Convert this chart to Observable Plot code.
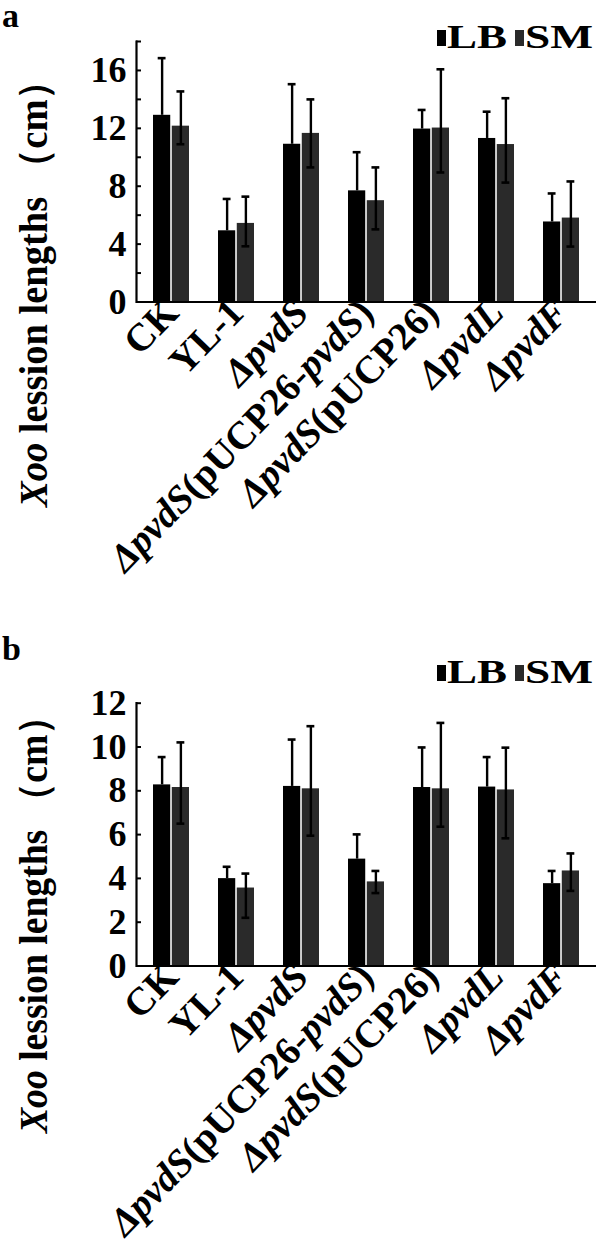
<!DOCTYPE html>
<html><head><meta charset="utf-8">
<script src="https://cdn.jsdelivr.net/npm/d3@7"></script>
<script src="https://cdn.jsdelivr.net/npm/@observablehq/plot@0.6"></script>
<style>
body{margin:0;background:#fff;}
#wrap{width:600px;}
svg{display:block;}
</style></head><body><div id="wrap"></div>
<script>
// categories (asterisks mark italic parts)
const categories = ["CK", "YL-1", "*ΔpvdS*", "*ΔpvdS*(pUCP26-*pvdS*)", "*ΔpvdS*(pUCP26)", "*ΔpvdL*", "*ΔpvdF*"];
const seriesNames = ["LB", "SM"];
const seriesColors = ["#000000", "#2a2a2a"];

// panel a values (cm)
const aLB   = [12.9, 4.92, 10.9, 7.68, 11.95, 11.3, 5.53];
const aLBhi = [16.85, 7.12, 15.05, 10.35, 13.27, 13.15, 7.5];
const aSM   = [12.15, 5.43, 11.65, 7.0, 12.02, 10.88, 5.8];
const aSMhi = [14.55, 7.28, 14.0, 9.3, 16.08, 14.08, 8.33];
const aSMlo = [10.9, 3.85, 9.3, 5.02, 8.95, 8.25, 3.83];
const aTicks = [0, 2, 4, 6, 8, 10, 12, 14, 16, 18];
const aTickLabels = [0, 4, 8, 12, 16];

// panel b values (cm)
const bLB   = [8.27, 3.99, 8.2, 4.88, 8.15, 8.17, 3.76];
const bLBhi = [9.54, 4.53, 10.34, 6.01, 9.98, 9.54, 4.34];
const bSM   = [8.15, 3.56, 8.09, 3.84, 8.09, 8.04, 4.34];
const bSMhi = [10.21, 4.22, 10.95, 4.34, 11.1, 9.97, 5.14];
const bSMlo = [6.5, 2.2, 5.95, 3.33, 6.36, 5.83, 3.43];
const bTicks = [0, 2, 4, 6, 8, 10, 12];
const bTickLabels = [0, 2, 4, 6, 8, 10, 12];

const yTitleParts = [["Xoo", true], [" lession lengths \uFF08cm\uFF09", false]];

const FONT = "'Liberation Serif', 'Times New Roman', serif";
const strip = s => s.replace(/\*/g, "");
const markupOf = new Map(categories.map(c => [strip(c), c]));

function rows(vals, hi, lo) {
  return categories.map((c, i) => ({cat: strip(c), value: vals[i], hi: hi[i], lo: lo ? lo[i] : vals[i]}));
}

function panel(cfg) {
  const W = 600, mL = 136, mR = 4;
  const frameW = W - mL - mR;
  const step = frameW / 7;           // paddingInner 0.45, paddingOuter 0.225
  const bw = step * 0.55;
  const barW = (bw - 1.4) / 2;
  const off = bw / 2 - barW / 2;
  const capW = 8;
  const lb = rows(cfg.lb, cfg.lbHi, null);
  const sm = rows(cfg.sm, cfg.smHi, cfg.smLo);
  const svg = Plot.plot({
    width: W, height: cfg.height,
    marginLeft: mL, marginRight: mR, marginTop: cfg.mt, marginBottom: cfg.mb,
    style: {fontFamily: FONT, fontWeight: "bold", fontSize: "36px", background: "#fff", color: "#000"},
    x: {domain: categories.map(strip), paddingInner: 0.45, paddingOuter: 0.225, axis: null},
    y: {domain: cfg.domain, axis: null},
    marks: [
      Plot.barY(lb, {x: "cat", y: "value", fill: seriesColors[0], insetLeft: 0, insetRight: bw - barW}),
      Plot.barY(sm, {x: "cat", y: "value", fill: seriesColors[1], insetLeft: bw - barW, insetRight: 0}),
      Plot.ruleX(lb, {x: "cat", y1: "value", y2: "hi", dx: -off, stroke: "#000", strokeWidth: 2.4}),
      Plot.ruleX(sm, {x: "cat", y1: "lo", y2: "hi", dx: off, stroke: "#000", strokeWidth: 2.4}),
      Plot.tickY(lb, {x: "cat", y: "hi", insetLeft: barW / 2 - capW / 2, insetRight: bw - barW / 2 - capW / 2, stroke: "#000", strokeWidth: 2.6}),
      Plot.tickY(sm, {x: "cat", y: "hi", insetLeft: bw - barW / 2 - capW / 2, insetRight: barW / 2 - capW / 2, stroke: "#000", strokeWidth: 2.6}),
      Plot.tickY(sm, {x: "cat", y: "lo", insetLeft: bw - barW / 2 - capW / 2, insetRight: barW / 2 - capW / 2, stroke: "#000", strokeWidth: 2.6}),
      Plot.ruleY(cfg.ticks, {y: d => d, insetRight: frameW - 5, stroke: "#000", strokeWidth: 2}),
      Plot.ruleY([0], {stroke: "#000", strokeWidth: 2.2}),
      Plot.frame({anchor: "left", stroke: "#000", strokeWidth: 2.2}),
      Plot.axisY({ticks: cfg.tickLabels, tickSize: 0, tickPadding: 10, label: null, fontSize: 36, fontWeight: "bold"}),
      Plot.axisX({tickSize: 0, tickPadding: 4, tickRotate: -46, label: null, fontSize: 39, fontWeight: "bold"})
    ]
  });
  const s = d3.select(svg);
  // rich x tick labels
  s.selectAll('g[aria-label="x-axis tick label"] text').each(function () {
    const t = d3.select(this);
    const plain = this.textContent;
    const m = markupOf.get(plain);
    if (!m) return;
    t.text(null);
    m.split(/(\*[^*]+\*)/).filter(p => p).forEach(p => {
      const it = p.startsWith("*");
      t.append("tspan").attr("font-style", it ? "italic" : "normal").text(strip(p));
    });
  });
  // panel letter
  s.append("text").attr("x", 2).attr("y", cfg.letterY).attr("text-anchor", "start").attr("font-family", FONT)
    .attr("font-weight", "bold").attr("font-size", 34).text(cfg.letter);
  // legend
  const lg = s.append("g").attr("font-family", FONT).attr("font-weight", "bold").attr("font-size", 34)
    .attr("text-anchor", "start");
  const lx = [437, 515], tx = [447, 525], tw = [60, 68];
  seriesNames.forEach((n, i) => {
    lg.append("rect").attr("x", lx[i]).attr("y", cfg.legendY - 18).attr("width", 9).attr("height", 16).attr("fill", seriesColors[i]);
    lg.append("text").attr("x", tx[i]).attr("y", cfg.legendY).attr("textLength", tw[i])
      .attr("lengthAdjust", "spacingAndGlyphs").text(n);
  });
  // y title
  const yt = s.append("text").attr("transform", `translate(${cfg.titleX},${cfg.titleY}) rotate(-90)`)
    .attr("text-anchor", "middle").attr("font-family", FONT).attr("font-weight", "bold").attr("font-size", 40)
    .attr("textLength", cfg.titleLen).attr("lengthAdjust", "spacingAndGlyphs");
  yTitleParts.forEach(([txt, it]) => yt.append("tspan").attr("font-style", it ? "italic" : "normal").text(txt));
  return svg;
}

const wrap = document.getElementById("wrap");
wrap.appendChild(panel({
  height: 620, mt: 41, mb: 318.5, domain: [0, 18], ticks: aTicks, tickLabels: aTickLabels,
  lb: aLB, lbHi: aLBhi, sm: aSM, smHi: aSMhi, smLo: aSMlo,
  letter: "a", letterY: 27, legendY: 48, titleX: 47, titleY: 284, titleLen: 446
}));
wrap.appendChild(panel({
  height: 628, mt: 82.7, mb: 282.5, domain: [0, 12], ticks: bTicks, tickLabels: bTickLabels,
  lb: bLB, lbHi: bLBhi, sm: bSM, smHi: bSMhi, smLo: bSMlo,
  letter: "b", letterY: 40, legendY: 63, titleX: 47, titleY: 295, titleLen: 436
}));
</script></body></html>
